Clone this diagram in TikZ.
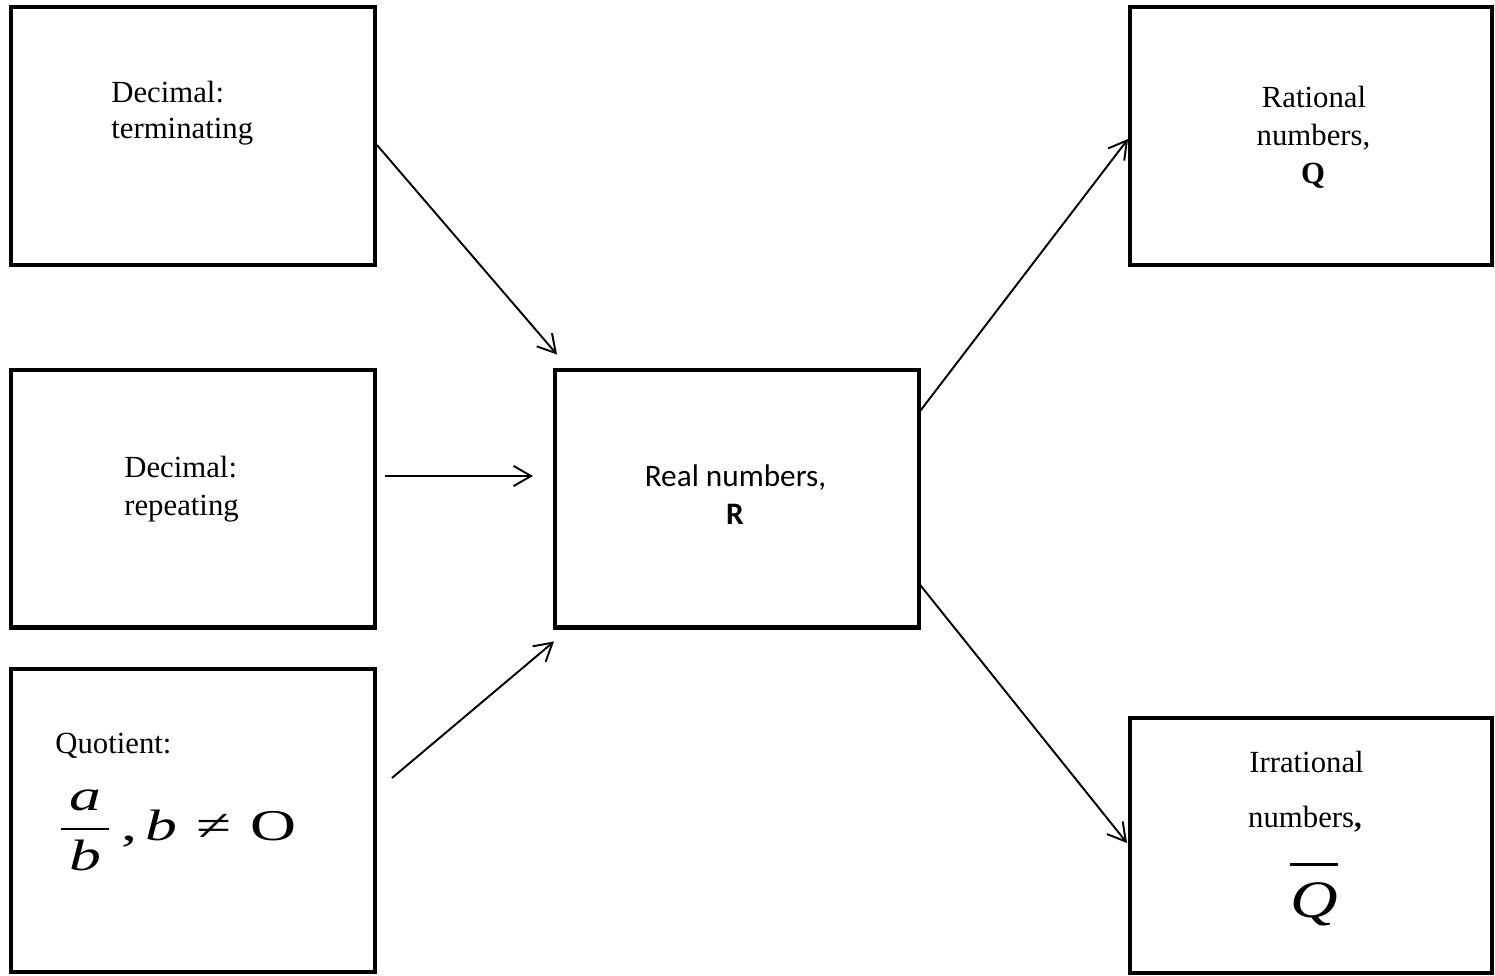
\documentclass[tikz,border=0pt]{standalone}
\usepackage{fontspec}
\usepackage{amsmath}
\usepackage{graphicx}
\setmainfont{Liberation Serif}
\newfontfamily\calibri{Carlito}
\usetikzlibrary{calc}
\usetikzlibrary{arrows.meta}

\begin{document}
\begin{tikzpicture}[x=0.02cm, y=-0.02cm,
        box/.style={draw, line width=2.3pt, inner sep=0pt, outer sep=0pt, minimum width=7.28cm, minimum height=5.16cm},
        txt/.style={inner sep=0pt, font=\fontsize{17.5}{21}\selectfont},
        sans/.style={inner sep=0pt, font=\calibri\fontsize{17.8}{21}\selectfont},
        arr/.style={line width=1.1pt, -{Straight Barb[length=10pt, width=11.5pt]}}]
            \useasboundingbox (0,0) rectangle (1495,975);
            \node[box] (DT) at (193, 136) {};
            \node[box] (DR) at (193, 498.5) {};
            \node[box, minimum height=6.06cm] (QT) at (193, 820.5) {};
            \node[box] (REAL) at (737, 498.5) {};
            \node[box, minimum width=7.24cm] (RAT) at (1311, 136) {};
            \node[box, minimum width=7.24cm, minimum height=5.1cm] (IRR) at (1311, 845.5) {};
            \node[txt, anchor=base west] (DT1) at ($(DT) + (-82, -34)$) {Decimal:};
            \node[txt, anchor=base west] (DT2) at ($(DT) + (-82, 2)$) {terminating};
            \node[txt, anchor=base west] (DR1) at ($(DR) + (-69, -21.5)$) {Decimal:};
            \node[txt, anchor=base west] (DR2) at ($(DR) + (-69, 16.5)$) {repeating};
            \node[txt, anchor=base west] (QT1) at ($(QT) + (-138, -67.5)$) {Quotient:};
            \node[txt, anchor=base west, font=\fontsize{25}{29}\selectfont] (QT2) at ($(QT) + (-135, 19.5)$)
                {\scalebox{1.45}[1]{$\dfrac{\makebox[18.8pt]{\textit{a}}}{\textit{b}\rule[-3pt]{0pt}{1pt}}$\hspace{3.4pt},\hspace{3.2pt}\textit{b}\hspace{7.5pt}≠\hspace{7.5pt}O}};
            \node[sans, anchor=base] (REAL1) at ($(REAL) + (-1.5, -12.5)$) {Real numbers,};
            \node[sans, anchor=base] (REAL2) at ($(REAL) + (-2, 25.5)$) {\bfseries R};
            \node[txt, anchor=base] (RAT1) at ($(RAT) + (3, -29)$) {Rational};
            \node[txt, anchor=base] (RAT2) at ($(RAT) + (2.5, 9)$) {numbers,};
            \node[txt, anchor=base] (RAT3) at ($(RAT) + (2, 47)$) {\bfseries Q};
            \node[txt, anchor=base] (IRR1) at ($(IRR) + (-4.5, -73.5)$) {Irrational};
            \node[txt, anchor=base] (IRR2) at ($(IRR) + (-6, -18.5)$) {numbers{\bfseries ,}};
            \node[txt, anchor=base, font=\fontsize{30}{34}\selectfont] (IRR3) at ($(IRR) + (3, 71.5)$)
                {\scalebox{1.25}[1]{\vbox{\hrule height 1.6pt \kern 9pt \hbox{\itshape Q}}}};
            \draw[arr] ($(DT.east) + (2, 9)$) -- ($(REAL.north west) + (2, -15)$);
            \draw[arr] ($(DR.east) + (10, -22.5)$) -- ($(REAL.west) + (-22, -22.5)$);
            \draw[arr] ($(QT.east) + (17, -42.5)$) -- ($(REAL.south west) + (-1, 14)$);
            \draw[arr] ($(REAL.north east) + (0, 43)$) -- ($(RAT.west) + (-2, 3)$);
            \draw[arr] ($(REAL.south east) + (0, -44)$) -- ($(IRR.west) + (-3, -2.5)$);
        \end{tikzpicture}
\end{document}
